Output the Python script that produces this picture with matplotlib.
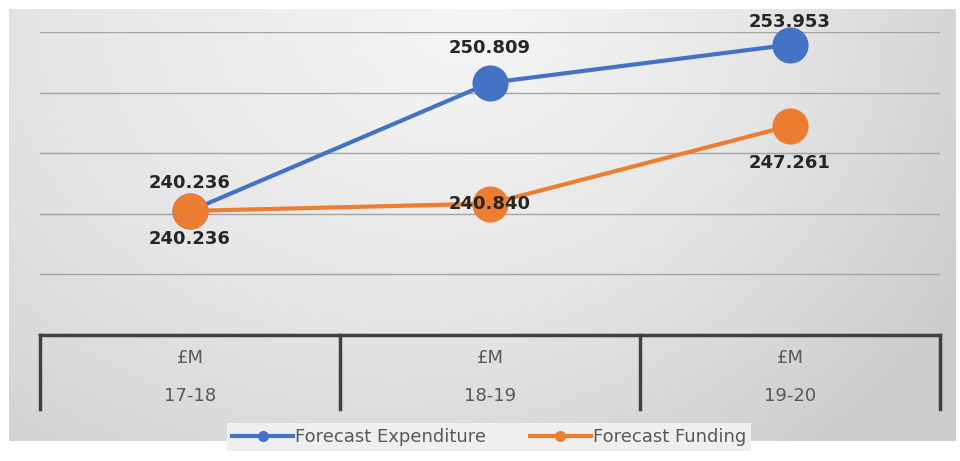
import numpy as np
import matplotlib
matplotlib.use("Agg")
import matplotlib.pyplot as plt
from matplotlib.lines import Line2D
from matplotlib.colors import LinearSegmentedColormap

# data
years = ["17-18", "18-19", "19-20"]
unit = "£M"
expenditure = [240.236, 250.809, 253.953]
funding = [240.236, 240.840, 247.261]

blue = "#4472C4"
orange = "#ED7D31"
W, H = 960, 461

fig = plt.figure(figsize=(9.6, 4.61), dpi=100, facecolor="white")

# gray gradient panel behind everything
bg = fig.add_axes([9 / W, 1 - 441 / H, 946 / W, 432 / H], zorder=0)
gx, gy = np.meshgrid(np.linspace(-1, 1, 300), np.linspace(0, 1, 150))
r = np.sqrt((gx * 0.75) ** 2 + (gy * 0.8) ** 2) + 0.15 * gx
cm = LinearSegmentedColormap.from_list("bgc", ["#f6f6f6", "#e6e6e6", "#cccccc"])
bg.imshow(r, cmap=cm, vmin=0, vmax=1.1, aspect="auto", extent=[0, 1, 0, 1], origin="upper")
bg.set_axis_off()

# main plot area
ax = fig.add_axes([40 / W, 1 - 335 / H, 900 / W, 303 / H], zorder=2)
ax.patch.set_alpha(0)
ax.set_xlim(-0.5, 2.5)
ax.set_ylim(230, 255)
ax.set_yticks([235, 240, 245, 250, 255])
ax.yaxis.grid(True, color="#a3a3a3", lw=1)
ax.tick_params(left=False, bottom=False, labelleft=False, labelbottom=False)
for s in ax.spines.values():
    s.set_visible(False)

x = np.arange(len(years))
ax.plot(x, expenditure, color=blue, lw=3, marker="o", ms=25, zorder=3, clip_on=False)
ax.plot(x, funding, color=orange, lw=3, marker="o", ms=25, zorder=4, clip_on=False)

lab = dict(fontsize=13, fontweight="bold", color="#262626", ha="center", va="center", zorder=6)
ax.annotate(f"{expenditure[0]:.3f}", (x[0], expenditure[0]), xytext=(0, 20), textcoords="offset points", **lab)
ax.annotate(f"{expenditure[1]:.3f}", (x[1], expenditure[1]), xytext=(0, 25), textcoords="offset points", **lab)
ax.annotate(f"{expenditure[2]:.3f}", (x[2], expenditure[2]), xytext=(0, 16), textcoords="offset points", **lab)
ax.annotate(f"{funding[0]:.3f}", (x[0], funding[0]), xytext=(0, -20), textcoords="offset points", **lab)
ax.annotate(f"{funding[1]:.3f}", (x[1], funding[1]), xytext=(0, 0), textcoords="offset points", **lab)
ax.annotate(f"{funding[2]:.3f}", (x[2], funding[2]), xytext=(0, -27), textcoords="offset points", **lab)

# category table under the plot
tb = fig.add_axes([40 / W, 1 - 409 / H, 900 / W, 74 / H], zorder=2)
tb.patch.set_alpha(0)
tb.set_xlim(-0.5, 2.5)
tb.set_ylim(0, 1)
tb.set_axis_off()
tb.plot([-0.5, 2.5], [1, 1], color="#404040", lw=2.5, clip_on=False)
for xv in [-0.5, 0.5, 1.5, 2.5]:
    tb.plot([xv, xv], [0, 1], color="#404040", lw=2.5, clip_on=False)
for i, yr in enumerate(years):
    tb.text(i, 0.69, unit, ha="center", va="center", fontsize=13, color="#595959")
    tb.text(i, 0.17, yr, ha="center", va="center", fontsize=13, color="#595959")

# legend
handles = [
    Line2D([], [], color=blue, lw=3, marker="o", ms=7),
    Line2D([], [], color=orange, lw=3, marker="o", ms=7),
]
leg = fig.legend(handles, ["Forecast Expenditure", "Forecast Funding"], ncol=2,
                 loc="center", bbox_to_anchor=(489 / W, 1 - 437 / H), frameon=True,
                 fontsize=13, handlelength=3.4, handletextpad=0.1, columnspacing=2.4,
                 borderpad=0.3, borderaxespad=0, fancybox=False)
leg.get_frame().set_facecolor("#efefef")
leg.get_frame().set_edgecolor("none")
leg.get_frame().set_alpha(1)
leg.set_zorder(5)
for t in leg.get_texts():
    t.set_color("#595959")

fig.savefig("out.png", dpi=100, facecolor="white")
